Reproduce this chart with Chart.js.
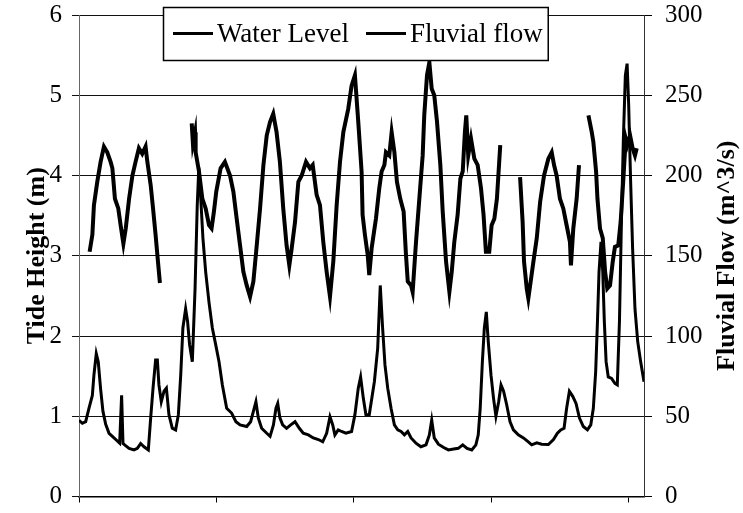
<!DOCTYPE html>
<html>
<head>
<meta charset="utf-8">
<script src="https://cdn.jsdelivr.net/npm/chart.js@4.4.1/dist/chart.umd.min.js"></script>
<style>
    html, body { margin: 0; padding: 0; background: #fff; }
</style>
</head>
<body>
<canvas id="tide" width="743" height="513"></canvas>
<script>
// time axis in days, ticks every week
var xTicks = [0, 7, 14, 21, 28];
var xMax = 28.77;

/* water level (m), null = missing record */
var wlDays = [
    0.54, 0.68, 0.76, 0.93, 1.10, 1.27, 1.44, 1.61, 1.70, 1.83, 2.00, 2.12, 2.26, 2.38, 2.55, 2.72, 2.88, 3.05, 3.22, 3.39, 3.48, 3.65, 3.77, 3.90, 3.99, 4.12,
    4.90,
    5.74, 5.80, 5.91, 5.94, 6.11, 6.28, 6.45, 6.62, 6.75, 6.87, 6.99, 7.21, 7.43, 7.69, 7.86, 8.03, 8.20, 8.37, 8.54, 8.71, 8.88, 9.05, 9.22, 9.39, 9.56, 9.73, 9.89,
    10.06, 10.23, 10.40, 10.57, 10.71, 10.83, 11.00, 11.17, 11.34, 11.56, 11.76, 11.90, 12.10, 12.27, 12.44, 12.61, 12.78, 12.95, 13.12, 13.29, 13.46, 13.71, 13.88,
    14.05, 14.22, 14.39, 14.44, 14.56, 14.70, 14.78, 14.90, 15.00, 15.12, 15.29, 15.41, 15.55, 15.63, 15.80, 15.92, 16.06, 16.19, 16.36, 16.53, 16.65, 16.74, 16.91,
    16.99, 17.16, 17.33, 17.50, 17.58, 17.72, 17.84, 17.96, 18.09, 18.23, 18.40, 18.52, 18.69, 18.86, 18.98, 19.11, 19.28, 19.42, 19.54, 19.65, 19.72, 19.82, 19.96,
    20.13, 20.30, 20.47, 20.60, 20.72, 20.89, 21.01, 21.15, 21.28, 21.45,
    21.90,
    22.46, 22.59, 22.66, 22.80, 22.88, 23.00, 23.14, 23.31, 23.48, 23.68, 23.90, 24.07, 24.19, 24.32, 24.49, 24.66, 24.83, 25.00, 25.05, 25.17, 25.34, 25.46,
    25.70,
    25.94, 26.11, 26.19, 26.33, 26.40, 26.53, 26.67, 26.79, 26.90, 27.04, 27.18, 27.29, 27.46, 27.58, 27.72, 27.84, 27.92, 28.06, 28.19, 28.31, 28.40
];
var wlLevel = [
    3.05, 3.26, 3.63, 3.92, 4.17, 4.36, 4.29, 4.17, 4.09, 3.71, 3.59, 3.38, 3.15, 3.34, 3.71, 4.00, 4.17, 4.34, 4.27, 4.36, 4.17, 3.88, 3.59, 3.26, 3.01, 2.66,
    null,
    4.65, 4.40, 4.54, 4.29, 4.05, 3.71, 3.59, 3.38, 3.34, 3.55, 3.80, 4.09, 4.17, 4.00, 3.80, 3.46, 3.13, 2.80, 2.63, 2.49, 2.68, 3.13, 3.59, 4.13, 4.50, 4.67, 4.77,
    4.54, 4.17, 3.59, 3.13, 2.88, 3.09, 3.42, 3.92, 4.00, 4.17, 4.09, 4.13, 3.76, 3.63, 3.17, 2.80, 2.49, 2.93, 3.63, 4.17, 4.54, 4.83, 5.12,
    5.25, 4.67, 4.05, 3.51, 3.26, 3.01, 2.76, 3.09, 3.26, 3.46, 3.84, 4.05, 4.13, 4.29, 4.25, 4.54, 4.29, 3.92, 3.71, 3.55, 3.01, 2.68, 2.63,
    2.55, 3.17, 3.71, 4.25, 4.75, 5.25, 5.41, 5.08, 5.00, 4.67, 4.13, 3.55, 2.93, 2.55, 2.80, 3.17, 3.51, 3.96, 4.05, 4.54, 4.75, 4.25, 4.46,
    4.21, 4.13, 3.84, 3.51, 3.05, 3.05, 3.38, 3.46, 3.71, 4.38,
    null,
    3.98, 3.42, 2.93, 2.59, 2.47, 2.68, 2.93, 3.22, 3.67, 4.00, 4.21, 4.29, 4.13, 4.00, 3.71, 3.59, 3.38, 3.17, 2.88, 3.34, 3.71, 4.13,
    null,
    4.75, 4.54, 4.42, 4.05, 3.71, 3.34, 3.22, 2.80, 2.59, 2.63, 2.93, 3.11, 3.13, 3.42, 3.96, 4.46, 4.38, 4.50, 4.34, 4.25, 4.34
];

/* fluvial flow (m^3/s) */
var flowDays = [
    0, 0.17, 0.34, 0.51, 0.68, 0.76, 0.88, 0.98, 1.10, 1.22, 1.36, 1.53, 1.70, 1.87, 2.07, 2.17, 2.24, 2.34, 2.55, 2.80, 2.97, 3.14, 3.31, 3.53, 3.65, 3.77, 3.90,
    3.99, 4.07, 4.19, 4.33, 4.45, 4.58, 4.75, 4.92, 5.06, 5.18, 5.29, 5.43, 5.53, 5.63, 5.77, 5.91, 6.02, 6.10, 6.19, 6.31, 6.45, 6.62, 6.79, 6.96, 7.13, 7.30,
    7.52, 7.77, 7.99, 8.20, 8.54, 8.74, 8.88, 9.01, 9.13, 9.30, 9.56, 9.73, 9.90, 10.03, 10.12, 10.23, 10.37, 10.57, 10.78, 11.00, 11.22, 11.42, 11.68, 11.93,
    12.19, 12.41, 12.61, 12.78, 12.92, 13.03, 13.20, 13.37, 13.59, 13.88, 14.05, 14.22, 14.34, 14.48, 14.61, 14.78, 15.04, 15.21, 15.34, 15.46, 15.58, 15.72,
    15.89, 16.06, 16.23, 16.40, 16.57, 16.74, 16.91, 17.16, 17.41, 17.67, 17.84, 17.96, 18.09, 18.30, 18.57, 18.81, 19.08, 19.31, 19.54, 19.76, 20.00, 20.21,
    20.33, 20.43, 20.54, 20.64, 20.74, 20.84, 20.98, 21.11, 21.23, 21.37, 21.49, 21.62, 21.78, 21.95, 22.12, 22.37, 22.63, 22.88, 23.05, 23.31, 23.56, 23.90,
    24.16, 24.36, 24.53, 24.70, 24.83, 24.97, 25.14, 25.31, 25.48, 25.68, 25.89, 26.06, 26.19, 26.31, 26.40, 26.48, 26.58, 26.67, 26.75, 26.84, 26.95, 27.12,
    27.29, 27.41, 27.52, 27.62, 27.72, 27.82, 27.91, 27.99, 28.09, 28.19, 28.31, 28.45, 28.60, 28.77
];
var flowRate = [
    47.5, 45.6, 46.6, 55, 63, 75.6, 89, 84, 67, 53, 45, 39.4, 37.5, 35.5, 33.2, 63, 33, 32, 30, 29, 30, 33, 31, 29, 49, 67.5, 85,
    85, 69.5, 59, 65.6, 67.5, 51, 42.6, 41.5, 51, 75.6, 105, 117, 109, 94.6, 84, 129.5, 181, 205, 188, 161, 140, 121, 105, 94.6, 84, 69.5,
    55, 52, 46.6, 44.6, 43.6, 46.6, 53, 59, 49, 42.5, 39.4, 37.5, 44.6, 55, 58, 49, 44.6, 42.5, 44.6, 46.6, 42.5, 39.4, 38.4, 36.5,
    35.5, 34.1, 39.4, 49.7, 44.6, 38.4, 41.5, 40.5, 39.4, 40.5, 51, 67.5, 74.5, 61, 51, 51, 71.5, 92.5, 131.5, 105, 82, 67.5,
    55, 44.6, 41.5, 40.5, 38.4, 40.5, 36.5, 33.2, 31, 32.2, 38.4, 47.6, 36.5, 32.6, 30.5, 29, 29.6, 30, 32.2, 30, 29, 32.2,
    38.4, 55, 84, 105, 115, 96.5, 75.6, 61, 50, 59, 69.5, 65.6, 57, 46.6, 41.5, 38.4, 36.5, 34, 32.2, 33.4, 32.6, 32.4,
    35.5, 39.4, 41.5, 42.5, 55, 65.6, 62.4, 58, 49, 43.6, 41.5, 44.6, 55, 78, 109, 140, 158.6, 140, 109, 84, 74.5, 73.6,
    70.4, 69.5, 109, 171, 223, 262.4, 269.7, 243.8, 196, 154.6, 117, 96.5, 84, 71.5
];

var serif = '"Liberation Serif", "Times New Roman", serif';
Chart.defaults.font.family = serif;
Chart.defaults.color = '#000';

function toPoints(xs, ys) {
    return xs.map(function (x, i) { return {x: x, y: ys[i]}; });
}

/* boxed legend sitting over the top of the plot */
var boxLegend = {
    id: 'boxLegend',
    afterDraw: function (chart) {
        var ctx = chart.ctx;
        var x0 = 163, y0 = 7, h = 53;
        ctx.save();
        ctx.font = '27px ' + serif;
        var labels = chart.data.datasets.map(function (ds) { return ds.label; });
        var w = 10;
        labels.forEach(function (t) { w += 40 + 4 + ctx.measureText(t).width + 17; });
        w = w - 17 + 5;
        ctx.fillStyle = '#fff';
        ctx.fillRect(x0, y0, w, h);
        ctx.strokeStyle = '#000';
        ctx.lineWidth = 1.5;
        ctx.strokeRect(x0 + 0.5, y0 + 0.5, w, h);
        var x = x0 + 10, cy = y0 + h / 2;
        ctx.textBaseline = 'middle';
        ctx.fillStyle = '#000';
        labels.forEach(function (t) {
            ctx.beginPath();
            ctx.moveTo(x, cy);
            ctx.lineTo(x + 40, cy);
            ctx.lineWidth = 3;
            ctx.stroke();
            x += 44;
            ctx.fillText(t, x, cy + 1);
            x += ctx.measureText(t).width + 17;
        });
        ctx.restore();
    }
};

/* right axis title reads bottom-to-top like the left one */
var rightTitle = {
    id: 'rightTitle',
    afterDraw: function (chart) {
        var ctx = chart.ctx, area = chart.chartArea;
        ctx.save();
        ctx.translate(727, (area.top + area.bottom) / 2);
        ctx.rotate(-Math.PI / 2);
        ctx.font = 'bold 26px ' + serif;
        ctx.textAlign = 'center';
        ctx.textBaseline = 'middle';
        ctx.fillStyle = '#000';
        ctx.fillText('Fluvial Flow (m^3/s)', 0, 0);
        ctx.restore();
    }
};

function fixSide(width) {
    return function (scale) {
        scale.width = width;
        scale.paddingTop = 0;
        scale.paddingBottom = 0;
    };
}

var ctx = document.getElementById('tide').getContext('2d');
var chart_tide = new Chart(ctx, {
    type: 'line',
    data: {
        datasets: [{
            label: 'Water Level',
            data: toPoints(wlDays, wlLevel),
            yAxisID: 'y',
            borderColor: '#000',
            borderWidth: 4,
            pointRadius: 0,
            tension: 0,
            spanGaps: false
        }, {
            label: 'Fluvial flow',
            data: toPoints(flowDays, flowRate),
            yAxisID: 'y2',
            borderColor: '#000',
            borderWidth: 3,
            pointRadius: 0,
            tension: 0
        }]
    },
    options: {
        responsive: false,
        animation: false,
        layout: {padding: {top: 15, left: 0, right: 0, bottom: 0}},
        plugins: {
            legend: {display: false},
            tooltip: {enabled: false}
        },
        scales: {
            x: {
                type: 'linear',
                min: 0,
                max: xMax,
                bounds: 'data',
                afterBuildTicks: function (scale) {
                    scale.ticks = xTicks.map(function (v) { return {value: v}; });
                },
                ticks: {display: false},
                grid: {drawOnChartArea: false, drawTicks: true, tickLength: 6, color: '#000'},
                border: {display: true, color: '#000', width: 1.5},
                afterFit: function (scale) { scale.height = 16.5; }
            },
            y: {
                position: 'left',
                min: 0,
                max: 6,
                ticks: {stepSize: 1, padding: 10, font: {size: 25}},
                grid: {color: '#111', lineWidth: 1, tickLength: 7},
                border: {color: '#666', width: 1},
                title: {
                    display: true,
                    text: 'Tide Height (m)',
                    font: {size: 26, weight: 'bold'},
                    padding: {top: 22, bottom: 0}
                },
                afterFit: fixSide(79)
            },
            y2: {
                position: 'right',
                min: 0,
                max: 300,
                ticks: {stepSize: 50, padding: 13, font: {size: 25}},
                grid: {drawOnChartArea: false, color: '#000', tickLength: 8},
                border: {color: '#333', width: 1},
                afterFit: fixSide(99)
            }
        }
    },
    plugins: [boxLegend, rightTitle]
});
</script>
</body>
</html>
